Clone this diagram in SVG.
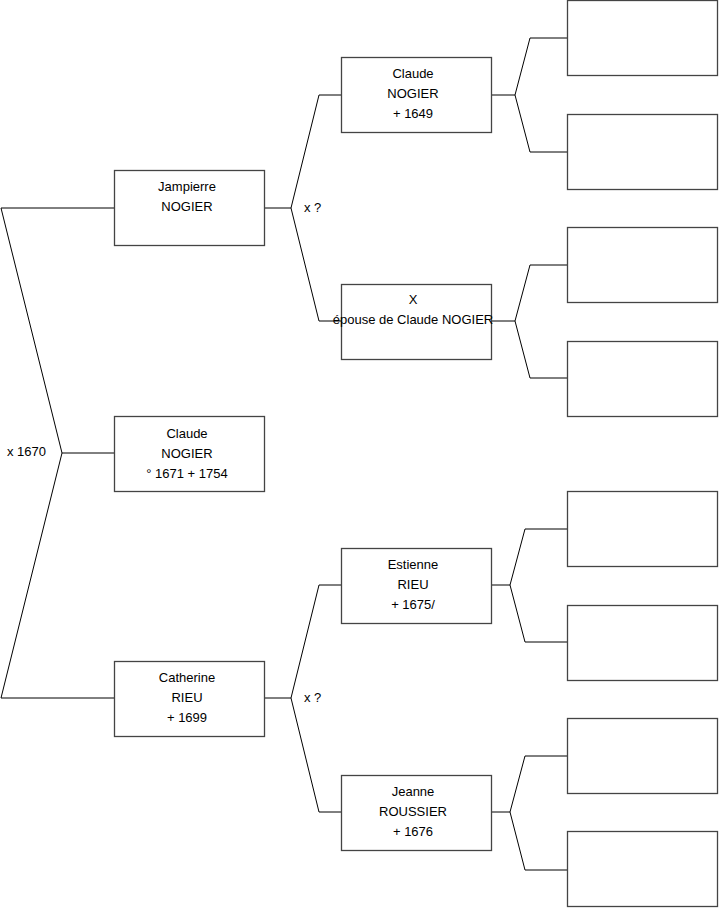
<svg xmlns="http://www.w3.org/2000/svg" width="719" height="908" viewBox="0 0 719 908">
<style>
.box{fill:#fff;stroke:#444;stroke-width:1.3}
.ln{fill:none;stroke:#000;stroke-width:1}
text{font-family:"Liberation Sans",Arial,sans-serif;font-size:13px;fill:#000}
.c{text-anchor:middle}
</style>
<rect width="719" height="908" fill="#fff"/>
<g id="connectors">
<polyline class="ln" points="114,208 1,208 62,453 1,698 114,698"/>
<line class="ln" x1="62" y1="453" x2="114" y2="453"/>
<polyline class="ln" points="265,208 291,208"/>
<polyline class="ln" points="341,95 319,95 291,208 319,321 341,321"/>
<polyline class="ln" points="265,698 291,698"/>
<polyline class="ln" points="341,585 319,585 291,698 319,812 341,812"/>
<polyline class="ln" points="491,95 515,95"/>
<polyline class="ln" points="567,38 530,38 515,95 530,152 567,152"/>
<polyline class="ln" points="491,321 515,321"/>
<polyline class="ln" points="567,265 530,265 515,321 530,378 567,378"/>
<polyline class="ln" points="491,585 510,585"/>
<polyline class="ln" points="567,529 525,529 510,585 525,642 567,642"/>
<polyline class="ln" points="491,812 510,812"/>
<polyline class="ln" points="567,756 525,756 510,812 525,870 567,870"/>
<text x="7" y="456">x 1670</text>
<text x="304" y="212">x ?</text>
<text x="304" y="702">x ?</text>
</g>
<g id="claude1">
<rect class="box" x="114.5" y="416.5" width="150" height="75"/>
<text class="c" x="187" y="438">Claude</text>
<text class="c" x="187" y="458">NOGIER</text>
<text class="c" x="187" y="478">° 1671 + 1754</text>
</g>
<g id="jampierre">
<rect class="box" x="114.5" y="170.5" width="150" height="75"/>
<text class="c" x="187" y="191">Jampierre</text>
<text class="c" x="187" y="211">NOGIER</text>
</g>
<g id="catherine">
<rect class="box" x="114.5" y="661.5" width="150" height="75"/>
<text class="c" x="187" y="682">Catherine</text>
<text class="c" x="187" y="702">RIEU</text>
<text class="c" x="187" y="722">+ 1699</text>
</g>
<g id="claude2">
<rect class="box" x="341.5" y="57.5" width="150" height="75"/>
<text class="c" x="413" y="78">Claude</text>
<text class="c" x="413" y="98">NOGIER</text>
<text class="c" x="413" y="118">+ 1649</text>
</g>
<g id="epouse">
<rect class="box" x="341.5" y="284.5" width="150" height="75"/>
<text class="c" x="413" y="304">X</text>
<text class="c" x="413" y="324">épouse de Claude NOGIER</text>
</g>
<g id="estienne">
<rect class="box" x="341.5" y="548.5" width="150" height="75"/>
<text class="c" x="413" y="569">Estienne</text>
<text class="c" x="413" y="589">RIEU</text>
<text class="c" x="413" y="609">+ 1675/</text>
</g>
<g id="jeanne">
<rect class="box" x="341.5" y="775.5" width="150" height="75"/>
<text class="c" x="413" y="796">Jeanne</text>
<text class="c" x="413" y="816">ROUSSIER</text>
<text class="c" x="413" y="836">+ 1676</text>
</g>
<g id="p1"><rect class="box" x="567.5" y="0.5" width="150" height="75"/></g>
<g id="p2"><rect class="box" x="567.5" y="114.5" width="150" height="75"/></g>
<g id="p3"><rect class="box" x="567.5" y="227.5" width="150" height="75"/></g>
<g id="p4"><rect class="box" x="567.5" y="341.5" width="150" height="75"/></g>
<g id="p5"><rect class="box" x="567.5" y="491.5" width="150" height="75"/></g>
<g id="p6"><rect class="box" x="567.5" y="605.5" width="150" height="75"/></g>
<g id="p7"><rect class="box" x="567.5" y="718.5" width="150" height="75"/></g>
<g id="p8"><rect class="box" x="567.5" y="831.5" width="150" height="75"/></g>
</svg>
